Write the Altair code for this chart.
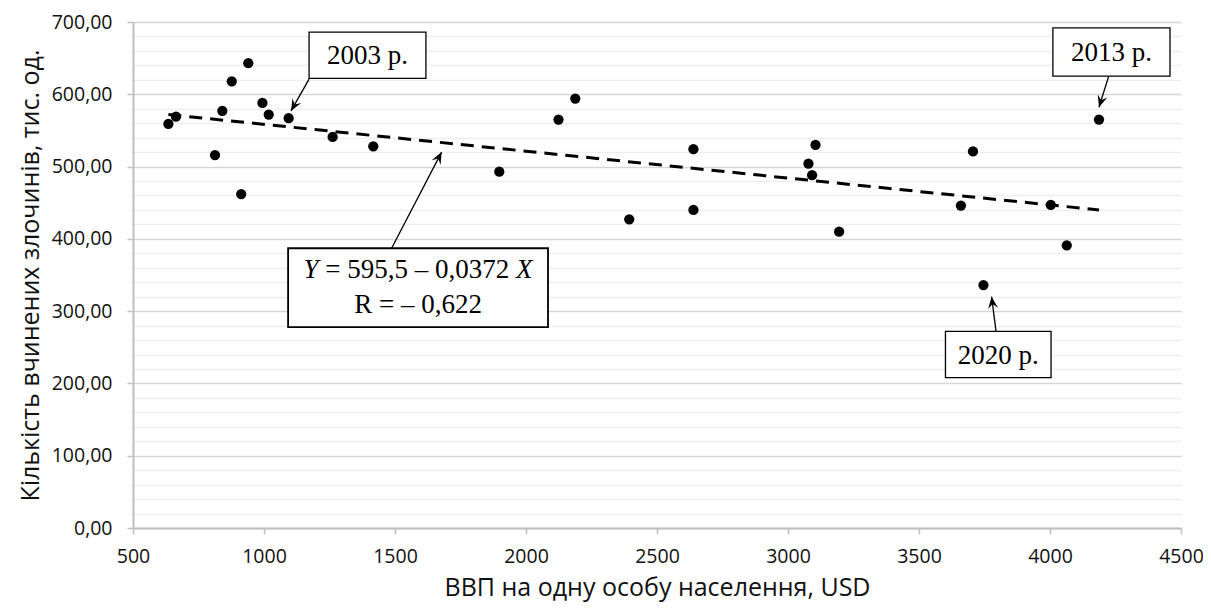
import math
import altair as alt
import pandas as pd

# ---- data ----
gdp = [635, 664, 813, 841, 877, 913, 940, 994, 1018, 1094, 1262, 1417, 1898,
       2124, 2188, 2394, 2639, 2639, 3078, 3092, 3105, 3195, 3660, 3706, 3746,
       4003, 4064, 4187]
crimes = [559, 569, 516, 577, 618, 462, 643, 588, 572, 567, 541, 528, 493,
          565, 594, 427, 524, 440, 504, 488, 530, 410, 446, 521, 336,
          447, 391, 565]

trend_x = [635, 4187]
trend_y = [572, 440]

year_labels = ["2003 р.", "2013 р.", "2020 р."]
eq_line1_mid = "= 595,5 – 0,0372"
eq_line2 = "R = – 0,622"

x_ticks = [500, 1000, 1500, 2000, 2500, 3000, 3500, 4000, 4500]
y_ticks = list(range(0, 701, 20))

# ---- annotation anchors (in data units) ----
box_x1 = [1172, 4011, 3601]
box_x2 = [1618, 4458, 4004]
box_y1 = [622, 625, 208]
box_y2 = [686, 692, 272]

eq_box = dict(x1=1092, x2=2084, y1=278, y2=387, l1=357, l2=308)

arr_x1 = [1172, 4224, 3794, 1487]
arr_y1 = [621, 625, 272, 387]
arr_x2 = [1103, 4187, 3777, 1678]
arr_y2 = [577, 582, 320, 520]

W, H = 1048, 506
XD = [500, 4500]
YD = [0, 700]

def px(v):
    return (v - XD[0]) / (XD[1] - XD[0]) * W

def py(v):
    return H - (v - YD[0]) / (YD[1] - YD[0]) * H

angles = []
for a, b, c, d in zip(arr_x1, arr_y1, arr_x2, arr_y2):
    dx = px(c) - px(a)
    dy = py(d) - py(b)
    ang = math.degrees(math.atan2(dx, -dy)) % 360
    angles.append(ang)

pts = pd.DataFrame({"gdp": gdp, "crimes": crimes})
trend = pd.DataFrame({"gdp": trend_x, "crimes": trend_y})
boxes = pd.DataFrame({"x1": box_x1, "x2": box_x2, "y1": box_y1, "y2": box_y2,
                      "label": year_labels,
                      "xm": [(a + b) / 2 for a, b in zip(box_x1, box_x2)],
                      "ym": [(a + b) / 2 for a, b in zip(box_y1, box_y2)]})
eqb = pd.DataFrame([eq_box])
eqt = pd.DataFrame({"xm": [(eq_box["x1"] + eq_box["x2"]) / 2],
                    "l1": [eq_box["l1"]], "l2": [eq_box["l2"]],
                    "mid": [eq_line1_mid], "r": [eq_line2]})
arrows = pd.DataFrame({"x1": arr_x1, "y1": arr_y1, "x2": arr_x2, "y2": arr_y2,
                       "ang": angles})

xs = alt.Scale(domain=XD, nice=False, zero=False)
ys = alt.Scale(domain=YD, nice=False, zero=False)

SANS = "Open Sans"
SERIF = "Liberation Serif"
XT = "ВВП на одну особу населення, USD"
YT = "Кількість вчинених злочинів, тис. од."

x_axis = alt.Axis(
    values=x_ticks, format="d", title=XT,
    grid=False, domainColor="#bfbfbf", domainWidth=2, tickColor="#bfbfbf",
    tickWidth=1.5, tickSize=6, labelFont=SANS, labelFontSize=19.5,
    labelColor="#111111", labelPadding=13, titleFont=SANS, titleFontSize=25,
    titleFontWeight="normal", titleColor="#111111", titlePadding=10,
    labelFlush=False,
)
y_axis = alt.Axis(
    values=y_ticks, title=YT,
    labelExpr="datum.value % 100 === 0 ? replace(format(datum.value, '.2f'), '.', ',') : ''",
    labelOverlap=False, grid=True,
    gridColor={"condition": {"test": "datum.value % 100 === 0", "value": "#d6d6d6"},
               "value": "#eeeeee"},
    gridWidth=1.6,
    tickOpacity={"condition": {"test": "datum.value % 100 === 0", "value": 1},
                 "value": 0},
    domainColor="#bfbfbf", domainWidth=2, tickColor="#bfbfbf", tickWidth=1.5,
    tickSize=6, labelFont=SANS, labelFontSize=19.5, labelColor="#111111",
    labelPadding=15, titleFont=SANS, titleFontSize=25, titleFontWeight="normal",
    titleColor="#111111", titlePadding=8,
)

def X(f):
    return alt.X(f, scale=xs, axis=x_axis, title=XT)

def Y(f):
    return alt.Y(f, scale=ys, axis=y_axis, title=YT)

points = alt.Chart(pts).mark_circle(size=105, color="black", opacity=1).encode(
    x=X("gdp:Q"), y=Y("crimes:Q"),
)

line = alt.Chart(trend).mark_line(color="black", strokeWidth=3,
                                  strokeDash=[13, 8]).encode(
    x=X("gdp:Q"), y=Y("crimes:Q"),
)

arrow_lines = alt.Chart(arrows).mark_rule(color="black", strokeWidth=1.3).encode(
    x=X("x1:Q"), x2="x2:Q", y=Y("y1:Q"), y2="y2:Q",
)

heads = alt.Chart(arrows).mark_point(
    shape="M0,0 L-0.42,1 L0,0.62 L0.42,1 Z", filled=True, color="black",
    opacity=1, size=560, strokeWidth=0,
).encode(
    x=X("x2:Q"), y=Y("y2:Q"),
    angle=alt.Angle("ang:Q", scale=None),
)

box_rects = alt.Chart(boxes).mark_rect(fill="white", stroke="black",
                                       strokeWidth=1.3).encode(
    x=X("x1:Q"), x2="x2:Q", y=Y("y1:Q"), y2="y2:Q",
)
box_text = alt.Chart(boxes).mark_text(font=SERIF, fontSize=27, color="black",
                                      baseline="middle", dy=1).encode(
    x=X("xm:Q"), y=Y("ym:Q"), text="label:N",
)

eq_rect = alt.Chart(eqb).mark_rect(fill="white", stroke="black",
                                   strokeWidth=1.8).encode(
    x=X("x1:Q"), x2="x2:Q", y=Y("y1:Q"), y2="y2:Q",
)

FS = 27
w_y = 0.556 * FS
w_sp = 0.25 * FS
w_mid = 6.814 * FS
w_x = 0.611 * FS
total = w_y + w_sp + w_mid + w_sp + w_x
left = -total / 2

eq_base = alt.Chart(eqt).encode(x=X("xm:Q"))
eq_y = eq_base.mark_text(font=SERIF, fontSize=FS, fontStyle="italic",
                         align="left", baseline="middle", dx=left,
                         text="Y").encode(y=Y("l1:Q"))
eq_mid = eq_base.mark_text(font=SERIF, fontSize=FS, align="left",
                           baseline="middle", dx=left + w_y + w_sp).encode(
    y=Y("l1:Q"), text="mid:N")
eq_x = eq_base.mark_text(font=SERIF, fontSize=FS, fontStyle="italic",
                         align="left", baseline="middle",
                         dx=left + w_y + w_sp + w_mid + w_sp,
                         text="X").encode(y=Y("l1:Q"))
eq_r = eq_base.mark_text(font=SERIF, fontSize=FS, align="center",
                         baseline="middle").encode(y=Y("l2:Q"), text="r:N")

chart = alt.layer(
    points, line, arrow_lines, heads, box_rects, box_text, eq_rect,
    eq_y, eq_mid, eq_x, eq_r,
).properties(
    width=W, height=H,
    autosize=alt.AutoSizeParams(type="none"),
    padding={"left": 125, "top": 14, "right": 22, "bottom": 80},
    background="white",
).configure_view(stroke=None)

chart.save("out.html", embed_options={"renderer": "svg", "actions": False})
